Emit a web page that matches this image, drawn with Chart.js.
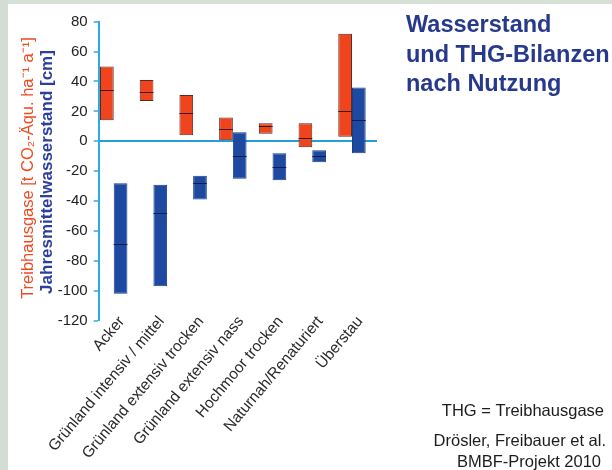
<!DOCTYPE html>
<html>
<head>
<meta charset="utf-8">
<script src="https://cdn.jsdelivr.net/npm/chart.js@4/dist/chart.umd.min.js"></script>
<style>
	html, body {
		margin: 0;
		padding: 0;
		width: 612px;
		height: 470px;
		overflow: hidden;
		background:
			linear-gradient(to right, #d3ddd3 8px, transparent 8px),
			linear-gradient(to bottom, #d6e0d6 4px, #ffffff 4px);
	}
	#wrap {
		position: absolute;
		left: 0;
		top: 0;
		width: 612px;
		height: 470px;
	}
</style>
</head>
<body>
<div id="wrap"><canvas id="chart" width="612" height="470"></canvas></div>
<script>
	'use strict';

	// Land use categories
	const categories = [
		'Acker',
		'Grünland intensiv / mittel',
		'Grünland extensiv trocken',
		'Grünland extensiv nass',
		'Hochmoor trocken',
		'Naturnah/Renaturiert',
		'Überstau'
	];

	// Treibhausgase (t CO2-Äqu. ha-1 a-1): low, high, median
	const thgLow = [14, 27, 4, 0, 5, -4, 3];
	const thgHigh = [50, 41, 31, 16, 12, 12, 72];
	const thgMedian = [34, 33, 19, 8, 10, 2, 20];

	// Jahresmittelwasserstand (cm): low, high, median
	const wasserLow = [-102, -97, -39, -25, -26, -14, -8];
	const wasserHigh = [-28, -29, -23, 6, -8, -6, 36];
	const wasserMedian = [-69, -48, -28, -10, -17, -10, 14];

	// y axis tick labels
	const yTicks = [80, 60, 40, 20, 0, -20, -40, -60, -80, -100, -120];

	const FONT = '"Liberation Sans", Arial, sans-serif';

	function rangeData(low, high) {
		return categories.map((c, i) => ({ x: i, y: [low[i], high[i]] }));
	}

	/**
	 * Pull the category labels up so they start beside the lowest tick
	 */
	const labelShiftPlugin = {
		id: 'labelShift',
		afterLayout(chart) {
			chart.scales.x.top -= 16;
		}
	};

	/**
	 * Median line across each bar
	 */
	const medianPlugin = {
		id: 'medianLines',
		afterDatasetsDraw(chart) {
			const ctx = chart.ctx;
			const yScale = chart.scales.y;
			const medians = [thgMedian, wasserMedian];
			const colors = ['#3b1a12', '#0d1c4a'];
			medians.forEach((med, d) => {
				const meta = chart.getDatasetMeta(d);
				meta.data.forEach((bar, i) => {
					const p = bar.getProps(['x', 'width'], true);
					const y = Math.round(yScale.getPixelForValue(med[i])) + 0.5;
					ctx.save();
					ctx.strokeStyle = colors[d];
					ctx.lineWidth = 1;
					ctx.beginPath();
					ctx.moveTo(p.x - p.width / 2, y);
					ctx.lineTo(p.x + p.width / 2, y);
					ctx.stroke();
					ctx.restore();
				});
			});
		}
	};

	/**
	 * Axis titles, heading and notes
	 */
	const textPlugin = {
		id: 'texts',
		afterDraw(chart) {
			const ctx = chart.ctx;
			ctx.save();

			// rotated axis titles
			ctx.save();
			ctx.translate(28, 168);
			ctx.rotate(-Math.PI / 2);
			ctx.textAlign = 'center';
			ctx.textBaseline = 'middle';
			ctx.fillStyle = '#ef4a22';
			ctx.font = '16.5px ' + FONT;
			ctx.fillText('Treibhausgase [t CO\u2082-Äqu. ha\u207B\u00B9 a\u207B\u00B9]', 0, 0);
			ctx.restore();

			ctx.save();
			ctx.translate(47, 172);
			ctx.rotate(-Math.PI / 2);
			ctx.textAlign = 'center';
			ctx.textBaseline = 'middle';
			ctx.fillStyle = '#2c3f9c';
			ctx.font = 'bold 17px ' + FONT;
			ctx.fillText('Jahresmittelwasserstand [cm]', 0, 0);
			ctx.restore();

			// heading
			ctx.fillStyle = '#27398c';
			ctx.font = 'bold 23.5px ' + FONT;
			ctx.textAlign = 'left';
			ctx.textBaseline = 'alphabetic';
			ctx.fillText('Wasserstand', 406, 32);
			ctx.fillText('und THG-Bilanzen', 406, 62);
			ctx.fillText('nach Nutzung', 406, 91);

			// notes
			ctx.fillStyle = '#1c1c1c';
			ctx.font = '16.5px ' + FONT;
			ctx.textAlign = 'right';
			ctx.fillText('THG = Treibhausgase', 604, 416);
			ctx.fillText('Drösler, Freibauer et al.', 606, 446);
			ctx.fillText('BMBF-Projekt 2010', 601, 467);

			ctx.restore();
		}
	};

	const ctx = document.getElementById('chart').getContext('2d');
	new Chart(ctx, {
		type: 'bar',
		data: {
			datasets: [{
				label: 'Treibhausgase',
				data: rangeData(thgLow, thgHigh),
				backgroundColor: '#f0441f',
				borderColor: '#5a2a1e',
				borderWidth: 1,
				borderSkipped: false
			}, {
				label: 'Jahresmittelwasserstand',
				data: rangeData(wasserLow, wasserHigh),
				backgroundColor: '#1d4aa0',
				borderColor: '#183f8a',
				borderWidth: 1,
				borderSkipped: false
			}]
		},
		options: {
			responsive: false,
			animation: false,
			devicePixelRatio: 1,
			categoryPercentage: 0.69,
			barPercentage: 1,
			layout: {
				padding: { left: 0, right: 235, top: 21.7, bottom: 0 }
			},
			plugins: {
				legend: { display: false },
				tooltip: { enabled: false }
			},
			scales: {
				x: {
					type: 'linear',
					offset: false,
					min: -0.378,
					max: 6.63,
					afterFit: function(scale) {
						scale.height = 149.3;
					},
					grid: { display: false, offset: false },
					border: { display: false },
					ticks: {
						stepSize: 1,
						includeBounds: false,
						autoSkip: false,
						minRotation: 50,
						maxRotation: 50,
						padding: 0,
						labelOffset: 8,
						color: '#2a2a2a',
						font: { family: FONT, size: 15.5 },
						callback: function(value) {
							return Number.isInteger(value) ? categories[value] : '';
						}
					}
				},
				y: {
					min: -120,
					max: 80,
					afterFit: function(scale) {
						scale.width = 98.7;
					},
					afterBuildTicks: function(scale) {
						scale.ticks = yTicks.map(v => ({ value: v }));
					},
					border: { color: '#2eaae2', width: 2 },
					grid: {
						drawOnChartArea: true,
						color: c => (c.tick && c.tick.value === 0) ? '#259fd9' : 'rgba(0,0,0,0)',
						lineWidth: c => (c.tick && c.tick.value === 0) ? 2 : 0,
						tickColor: '#2eaae2',
						tickWidth: 1.5,
						tickLength: 5
					},
					ticks: {
						padding: 6,
						color: '#222',
						font: { family: FONT, size: 15 }
					}
				}
			}
		},
		plugins: [labelShiftPlugin, medianPlugin, textPlugin]
	});
</script>
</body>
</html>
